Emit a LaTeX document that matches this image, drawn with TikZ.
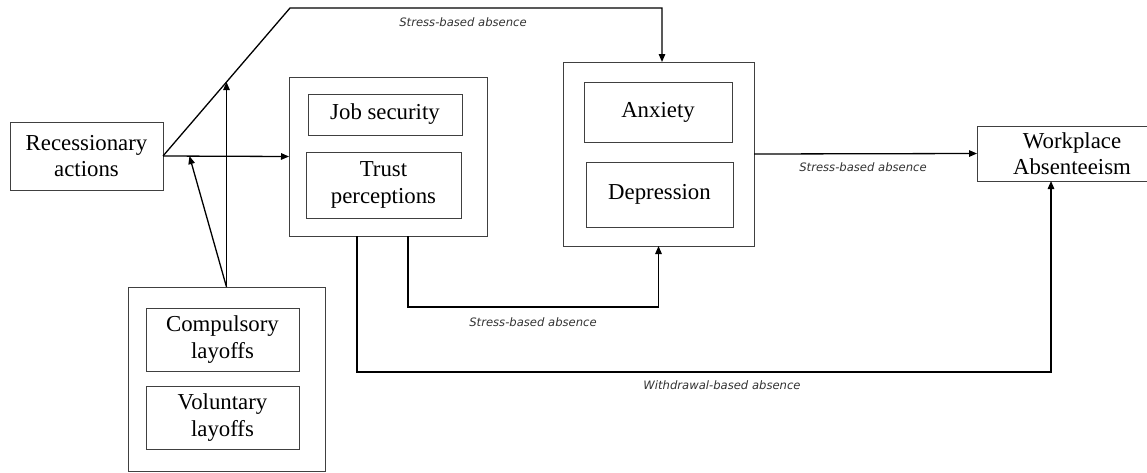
\documentclass[tikz,border=0pt]{standalone}
\usepackage{fontspec}
\setmainfont{Liberation Serif}
\newfontfamily\labfont{DejaVu Sans}
\usetikzlibrary{arrows.meta,calc}
\tikzset{
  box/.style={draw=black!75, line width=0.8pt, inner sep=0pt, outer sep=0pt, align=center,
    font=\fontsize{22.8}{26.5}\selectfont},
  frame/.style={draw=black!75, line width=0.8pt, inner sep=0pt, outer sep=0pt},
  arr/.style={draw=black, line width=1.3pt, -{Triangle[length=8pt,width=6.5pt]}},
  lab/.style={font=\labfont\itshape\fontsize{11.6}{13}\selectfont, text=black!80, inner sep=0pt}
}
\begin{document}
\begin{tikzpicture}[x=1pt,y=-1pt]
\useasboundingbox (0,0) rectangle (1147,472);
\fill[white] (0,0) rectangle (1147,472);
\begin{scope}
\clip (0,0) rectangle (1147,472);
% boxes
\node[box, minimum width=153pt, minimum height=68pt] (rec) at (86.5,156) {Recessionary\\actions};
\node[frame, minimum width=197pt, minimum height=184pt] (lay) at (226.5,379) {};
\node[box, minimum width=153pt, minimum height=63pt] (comp) at (222.5,339.5) {Compulsory\\layoffs};
\node[box, minimum width=153pt, minimum height=63pt] (vol) at (222.5,417.5) {Voluntary\\layoffs};
\node[frame, minimum width=198pt, minimum height=159pt] (trust) at (388,156.5) {};
\node[box, minimum width=154pt, minimum height=41pt] (job) at (385,114.5) {Job security};
\node[box, minimum width=155pt, minimum height=66pt] (tp) at (383.5,185) {Trust\\perceptions};
\node[frame, minimum width=191pt, minimum height=184pt] (anxout) at (658.5,154) {};
\node[box, minimum width=148pt, minimum height=60pt] (anx) at (658,112) {Anxiety};
\node[box, minimum width=147pt, minimum height=65pt] (dep) at (659.5,194.5) {Depression};
\node[box, minimum width=190pt, minimum height=55pt] (wp) at (1072,153.5) {Workplace\\Absenteeism};
% connectors
\coordinate (c1) at (290,8);
\draw[arr] (rec.east) -- (trust.west);
\draw[arr] (rec.east) -- (c1) -| ([xshift=3.5pt]anxout.north);
\draw[arr] (lay.north) -- ($(rec.east)!0.5!(c1)$);
\draw[arr] (lay.north) -- ($(rec.east)!0.21!(trust.west)$);
\draw[arr] ([xshift=20pt]trust.south) -- ++(0,71) -| (anxout.south);
\draw[arr] ([xshift=-31pt]trust.south) -- ++(0,136) -| ([xshift=-21pt]wp.south);
\draw[arr] (anxout.east) -- (wp.west);
% labels
\node[lab] (l1) at (463,22) {Stress-based absence};
\node[lab] (l2) at (863,167) {Stress-based absence};
\node[lab] (l3) at (533,322) {Stress-based absence};
\node[lab] (l4) at (722,385) {Withdrawal-based absence};
\end{scope}
\end{tikzpicture}
\end{document}
